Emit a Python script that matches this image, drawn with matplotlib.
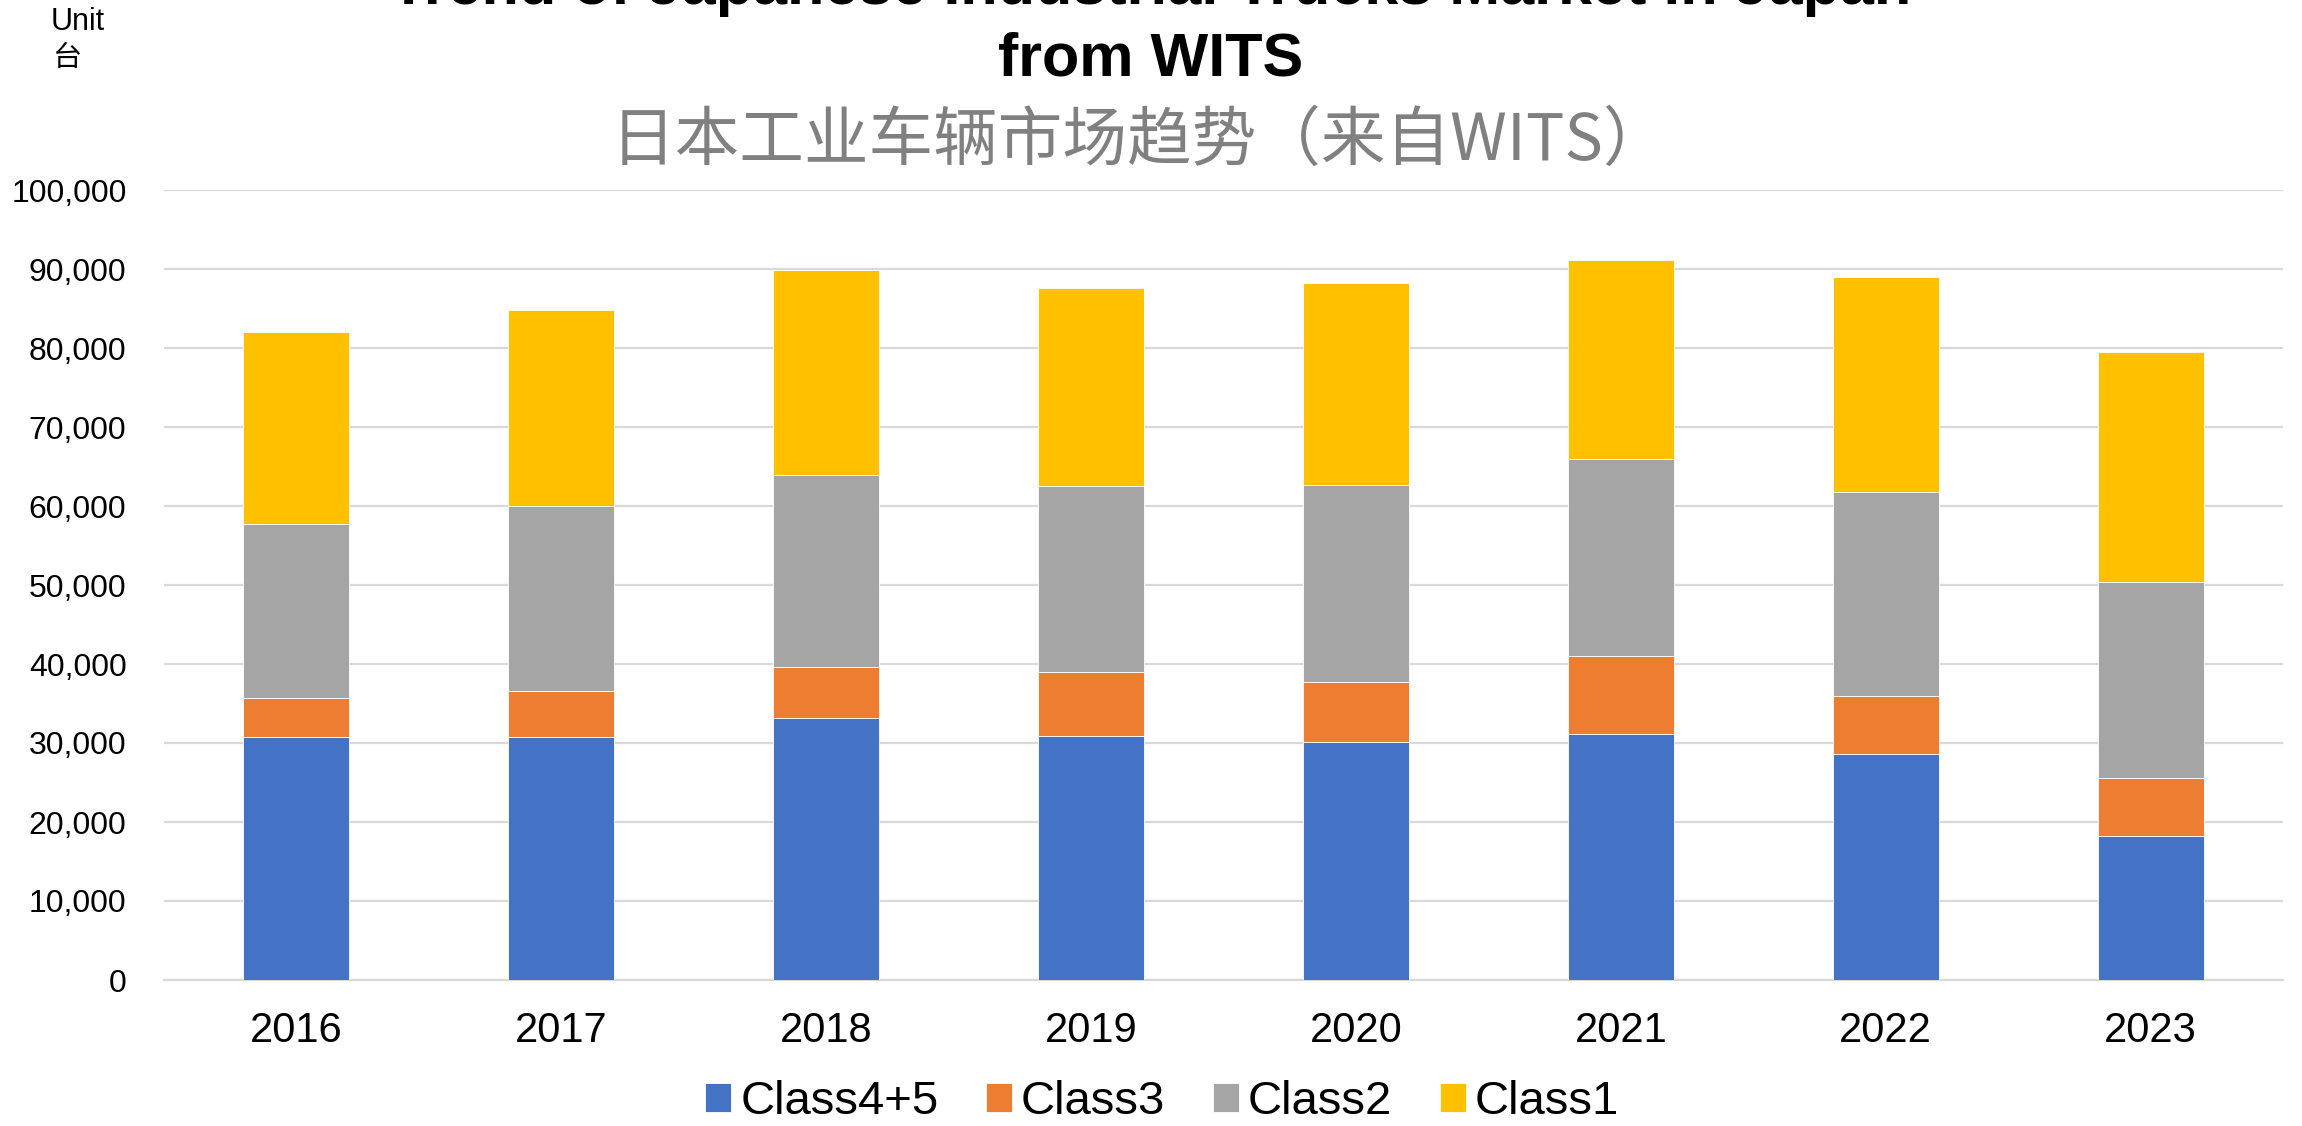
import numpy as np
import matplotlib
matplotlib.use('Agg')
import matplotlib.pyplot as plt
from matplotlib.ticker import FuncFormatter

plt.rcParams['font.family'] = ['Liberation Sans', 'Noto Sans CJK SC', 'DejaVu Sans']

years = ['2016', '2017', '2018', '2019', '2020', '2021', '2022', '2023']
class45 = [30720, 30770, 33120, 30860, 30090, 31130, 28600, 18220]
class3 = [4940, 5840, 6560, 8140, 7690, 9870, 7330, 7300]
class2 = [22030, 23350, 24210, 23490, 24840, 24970, 25840, 24840]
class1 = [24350, 24840, 25930, 25070, 25660, 25160, 27230, 29100]

series = [('Class4+5', class45, '#4472C4'),
          ('Class3', class3, '#ED7D31'),
          ('Class2', class2, '#A5A5A5'),
          ('Class1', class1, '#FFC000')]

W, H = 2302, 1126
fig = plt.figure(figsize=(W / 100, H / 100), dpi=100)
ax = fig.add_axes([164 / W, 1 - 980 / H, (2283 - 164) / W, (980 - 190) / H])

x = np.arange(len(years))
bottom = np.zeros(len(years))
for name, vals, col in series:
    ax.bar(x, vals, width=0.4, bottom=bottom, color=col, label=name,
           edgecolor='white', linewidth=0.6, zorder=3)
    bottom += np.array(vals)

ax.set_xlim(-0.5, len(years) - 0.5)
ax.set_ylim(0, 100000)
ax.set_yticks(np.arange(0, 100001, 10000))
ax.yaxis.set_major_formatter(FuncFormatter(lambda v, p: f'{int(v):,}'))
ax.set_xticks(x)
ax.set_xticklabels(years)
ax.tick_params(axis='y', length=0, labelsize=23, pad=27)
ax.tick_params(axis='x', length=0, labelsize=30, pad=22)
ax.grid(axis='y', color='#D9D9D9', linewidth=1.6, zorder=0)
for s in ['top', 'right', 'left']:
    ax.spines[s].set_visible(False)
ax.spines['bottom'].set_color('#D9D9D9')
ax.spines['bottom'].set_linewidth(1.6)

# titles
fig.text(0.5, 1 - 4 / H, 'Trend of Japanese Industrial Trucks Market in Japan',
         ha='center', va='baseline', fontsize=44, fontweight='bold')
fig.text(0.5, 1 - 76 / H, 'from WITS', ha='center', va='baseline',
         fontsize=44, fontweight='bold')
fig.text(0.495, 1 - 160 / H, '日本工业车辆市场趋势（来自WITS）', ha='center',
         va='baseline', fontsize=46.5, color='#808080',
         family=['Noto Sans CJK SC', 'DejaVu Sans'])
fig.text(51 / W, 1 - 30 / H, 'Unit', ha='left', va='baseline', fontsize=22)
fig.text(52 / W, 1 - 66 / H, '台', ha='left', va='baseline', fontsize=21,
         family=['Noto Sans CJK SC', 'DejaVu Sans'])

fig.legend(loc='center', bbox_to_anchor=(1162 / W, 1 - 1102 / H), ncol=4,
           frameon=False, fontsize=34, handlelength=0.55, handleheight=0.55,
           handletextpad=0.2, columnspacing=1.0)

fig.savefig('out.png', dpi=100)
